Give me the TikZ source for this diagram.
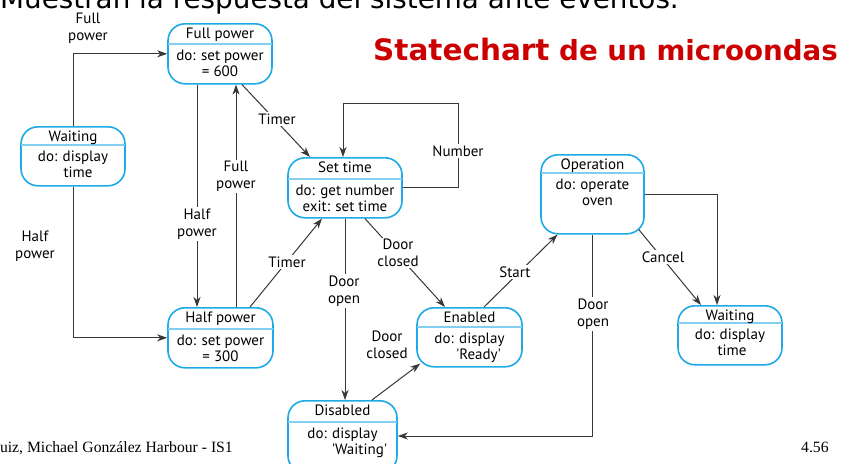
\documentclass[tikz,border=0pt]{standalone}
\usepackage{fontspec}
\setmainfont{PT Sans}
\newfontfamily\headfont{DejaVu Sans}
\newfontfamily\footfont{Liberation Serif}
\usetikzlibrary{arrows.meta,calc}

\definecolor{stateblue}{RGB}{30,170,230}
\definecolor{seprule}{RGB}{130,205,240}
\definecolor{titlered}{RGB}{204,0,0}
\definecolor{wire}{RGB}{55,55,55}

\tikzset{
  statebox/.style={draw=stateblue, line width=1.6pt, rounded corners=17pt, inner sep=0pt},
  sepline/.style={draw=seprule, line width=1.2pt},
  stitle/.style={font=\fontsize{15}{16.5}\selectfont, inner sep=0pt, anchor=base},
  sbody/.style={font=\fontsize{15}{16.5}\selectfont, inner sep=0pt, align=center, anchor=north},
  trans/.style={draw=wire, line width=1pt, -{Stealth[length=10pt,width=7pt,inset=3pt]}},
  tlabel/.style={font=\fontsize{15}{16.5}\selectfont, align=center, fill=white, inner sep=1.5pt},
}

% #1 name, #2 centre x, #3 top y, #4 width, #5 height, #6 header height, #7 title, #8 activity
\newcommand\umlstate[8]{%
  \node[statebox, minimum width=#4pt, minimum height=#5pt, anchor=north] (#1) at (#2,#3) {};
  \draw[sepline] ($(#1.north west)+(0.8,#6)$) -- ($(#1.north east)+(-0.8,#6)$);
  \node[stitle] (#1-title) at ($(#1.north)+(0,15)$) {#7};
  \node[sbody] (#1-body) at ($(#1.north)+(0,#6+4.5)$) {\strut #8};
}

\begin{document}
\begin{tikzpicture}[x=1pt,y=-1pt]
  \useasboundingbox (0,0) rectangle (843,463);
  \clip (0,0) rectangle (843,463);
  \fill[white] (0,0) rectangle (843,463);

  % heading and title
  \node[anchor=base west, inner sep=0pt, font=\headfont\fontsize{27.8}{30}\selectfont] (heading) at (0,8.5)
    {Muestran la respuesta del sistema ante eventos.};
  \node[anchor=base east, inner sep=0pt, text=titlered, font=\headfont\bfseries] (charttitle) at (838,60)
    {{\fontsize{29.5}{34}\selectfont Statechart}{\fontsize{27.7}{30}\selectfont\ de un microondas}};

  % states
  \umlstate{fullpower}{220}{23}{104}{60}{21}{Full power}{do: set power\\= 600}
  \umlstate{waitL}{73}{126}{104}{59}{19}{Waiting}{do: display\\\hspace*{10pt}time}
  \umlstate{settime}{345}{157}{114}{60}{22}{Set time}{do: get number\\exit: set time}
  \umlstate{halfpower}{220.5}{307}{105}{60}{22}{Half power}{do: set power\\= 300}
  \umlstate{operation}{592.5}{154}{103}{79}{19}{Operation}{do: operate\\\hspace*{10pt}oven}
  \umlstate{enabled}{469.5}{307}{105}{59}{20}{Enabled}{do: display\\\hspace*{18pt}\textquotesingle Ready\textquotesingle}
  \umlstate{waitR}{730}{305}{104}{59}{18}{Waiting}{do: display\\\hspace*{4pt}time}
  \umlstate{disabled}{342.5}{400}{109}{72}{22}{Disabled}{do: display\\\hspace*{34pt}\textquotesingle Waiting\textquotesingle}

  % transitions
  \draw[trans] (waitL.north) |- (fullpower.west);
  \draw[trans] (waitL.south) |- (halfpower.west);
  \draw[trans] ($(fullpower.south)+(-23,0)$) -- ($(halfpower.north)+(-23.5,0)$);
  \draw[trans] ($(halfpower.north)+(15.5,0)$) -- ($(fullpower.south)+(16,0)$);
  \draw[trans] ($(fullpower.south)+(22,0)$) -- ($(settime.north)+(-35,0)$);
  \draw[trans] ($(halfpower.north)+(29.5,0)$) -- ($(settime.south)+(-23,0)$);
  \coordinate (loop) at (458,103);
  \draw[trans] (settime.east) -| (loop) -| ($(settime.north)+(-2,0)$);
  \draw[trans] (settime.south) -- (settime.south |- disabled.north);
  \draw[trans] ($(settime.south)+(20,0)$) -- ($(enabled.north)+(-24.5,0)$);
  \draw[trans] ($(disabled.north)+(29.5,0)$) -- ($(enabled.south west)+(4,-4)$);
  \draw[trans] ($(enabled.north)+(14.5,0)$) -- ($(operation.south)+(-35,0)$);
  \draw[trans] ($(operation.south east)+(-6,-5)$) -- ($(waitR.north)+(-29,0)$);
  \draw[trans] (operation.east) -| ($(waitR.north)+(-13,0)$);
  \draw[trans] (operation.south) |- ($(disabled.north east)+(0,36)$);

  % transition labels
  \node[tlabel] (l-full1) at (88,28) {Full\\power};
  \node[tlabel] (l-half1) at (35,246) {Half\\power};
  \node[tlabel] (l-half2) at (197,224) {Half\\power};
  \node[tlabel] (l-full2) at (236,176) {Full\\power};
  \node[tlabel] (l-timer1) at (277,119) {Timer};
  \node[tlabel] (l-timer2) at (287,262) {Timer};
  \node[tlabel] (l-number) at (458,151) {Number};
  \node[tlabel] (l-open1) at (344,291) {Door\\open};
  \node[tlabel] (l-closed1) at (398,253) {Door\\closed};
  \node[tlabel] (l-closed2) at (387,345) {Door\\closed};
  \node[tlabel] (l-start) at (515,272) {Start};
  \node[tlabel] (l-cancel) at (663,257) {Cancel};
  \node[tlabel] (l-open2) at (593,314) {Door\\open};

  % footer
  \node[anchor=base east, inner sep=0pt, font=\footfont\fontsize{15.7}{18}\selectfont] (footer) at (233,452)
    {uiz, Michael González Harbour - IS1};
  \node[anchor=base west, inner sep=0pt, font=\footfont\fontsize{15.7}{18}\selectfont] (pageno) at (801,452) {4.56};
\end{tikzpicture}
\end{document}
